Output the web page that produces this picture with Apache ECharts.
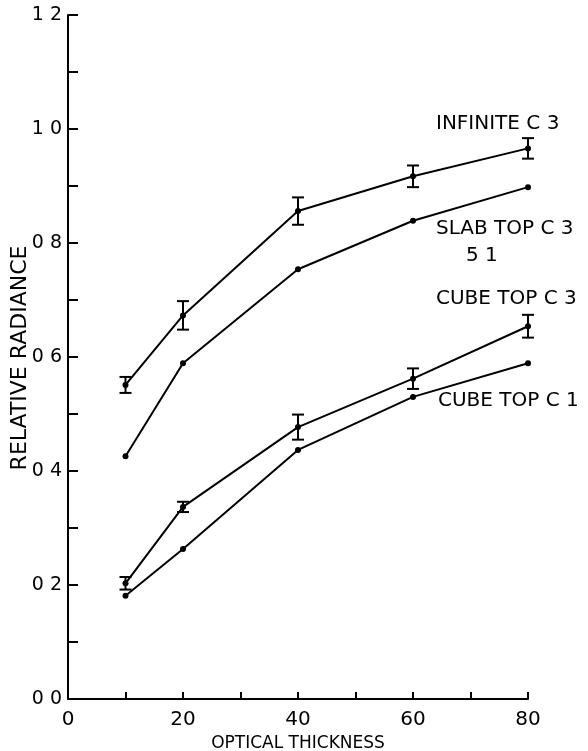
<!DOCTYPE html>
<html>
<head>
<meta charset="utf-8">
<script src="https://cdn.jsdelivr.net/npm/echarts@6/dist/echarts.min.js"></script>
<style>
html,body{margin:0;padding:0;background:#fff;}
#chart{width:588px;height:751px;}
</style>
</head>
<body>
<div id="chart"></div>
<script>
// Data
const opticalThickness = [10, 20, 40, 60, 80];
const infiniteC3 = [0.551, 0.673, 0.856, 0.917, 0.966];
const infiniteC3Err = [0.014, 0.025, 0.024, 0.019, 0.018];
const slabTopC3 = [0.426, 0.589, 0.754, 0.839, 0.898];
const cubeTopC3 = [0.203, 0.337, 0.477, 0.562, 0.654];
const cubeTopC3Err = [0.011, 0.009, 0.022, 0.018, 0.02];
const cubeTopC1 = [0.181, 0.263, 0.437, 0.530, 0.589];
const xTickLabels = {0: '0', 20: '20', 40: '40', 60: '60', 80: '80'};
const yTickLabels = {0: '0 0', 2: '0 2', 4: '0 4', 6: '0 6', 8: '0 8', 10: '1 0', 12: '1 2'};

const FONT = 'DejaVu Sans';
const chart = echarts.init(document.getElementById('chart'));

function pairs(ys) { return opticalThickness.map((x, i) => [x, ys[i]]); }
function errData(ys, es) { return opticalThickness.map((x, i) => [x, ys[i] - es[i], ys[i] + es[i]]); }

function errSeries(ys, es) {
  return {
    type: 'custom',
    data: errData(ys, es),
    z: 5,
    renderItem: function (params, api) {
      const x = api.value(0);
      const lo = api.coord([x, api.value(1)]);
      const hi = api.coord([x, api.value(2)]);
      const hw = 6;
      const st = {stroke: '#000', lineWidth: 2};
      return {
        type: 'group',
        children: [
          {type: 'line', shape: {x1: lo[0], y1: lo[1], x2: hi[0], y2: hi[1]}, style: st},
          {type: 'line', shape: {x1: lo[0] - hw, y1: lo[1], x2: lo[0] + hw, y2: lo[1]}, style: st},
          {type: 'line', shape: {x1: hi[0] - hw, y1: hi[1], x2: hi[0] + hw, y2: hi[1]}, style: st}
        ]
      };
    }
  };
}

function lineSeries(name, ys) {
  return {
    name: name,
    type: 'line',
    data: pairs(ys),
    symbol: 'circle',
    symbolSize: 6,
    lineStyle: {color: '#000', width: 2},
    itemStyle: {color: '#000'},
    z: 4
  };
}

const labelStyle = {fill: '#000', font: '20px "' + FONT + '"'};

chart.setOption({
  animation: false,
  backgroundColor: '#fff',
  grid: {left: 68, right: 60, top: 15, bottom: 52, containLabel: false, outerBoundsMode: 'none'},
  xAxis: {
    type: 'value', min: 0, max: 80, interval: 10,
    name: 'OPTICAL THICKNESS', nameLocation: 'middle', nameGap: 34,
    nameTextStyle: {color: '#000', fontFamily: FONT, fontSize: 17},
    axisLine: {show: true, lineStyle: {color: '#000', width: 2}},
    axisTick: {show: true, inside: true, length: 7, lineStyle: {color: '#000', width: 2}},
    axisLabel: {color: '#000', fontFamily: FONT, fontSize: 20, margin: 11,
      formatter: v => (xTickLabels[Math.round(v)] !== undefined ? xTickLabels[Math.round(v)] : '')},
    splitLine: {show: false}
  },
  yAxis: {
    type: 'value', min: 0, max: 1.2, interval: 0.1,
    axisLine: {show: true, lineStyle: {color: '#000', width: 2}},
    axisTick: {show: true, inside: true, length: 10, lineStyle: {color: '#000', width: 2}},
    axisLabel: {color: '#000', fontFamily: FONT, fontSize: 19, margin: 6,
      formatter: v => { const k = Math.round(v * 10); return yTickLabels[k] !== undefined ? yTickLabels[k] : ''; }},
    splitLine: {show: false}
  },
  graphic: [
    {type: 'text', x: 20, y: 358, rotation: Math.PI / 2,
      style: {text: 'RELATIVE RADIANCE', fill: '#000', font: '22px "' + FONT + '"', align: 'center', verticalAlign: 'middle'}},
    {type: 'text', left: 436, top: 114, style: Object.assign({text: 'INFINITE C 3'}, labelStyle)},
    {type: 'text', left: 436, top: 219, style: Object.assign({text: 'SLAB TOP C 3'}, labelStyle)},
    {type: 'text', left: 466, top: 246, style: Object.assign({text: '5 1'}, labelStyle)},
    {type: 'text', left: 436, top: 289, style: Object.assign({text: 'CUBE TOP C 3'}, labelStyle)},
    {type: 'text', left: 438, top: 391, style: Object.assign({text: 'CUBE TOP C 1'}, labelStyle)}
  ],
  series: [
    lineSeries('INFINITE C3', infiniteC3),
    lineSeries('SLAB TOP C3', slabTopC3),
    lineSeries('CUBE TOP C3', cubeTopC3),
    lineSeries('CUBE TOP C1', cubeTopC1),
    errSeries(infiniteC3, infiniteC3Err),
    errSeries(cubeTopC3, cubeTopC3Err)
  ]
});
</script>
</body>
</html>
